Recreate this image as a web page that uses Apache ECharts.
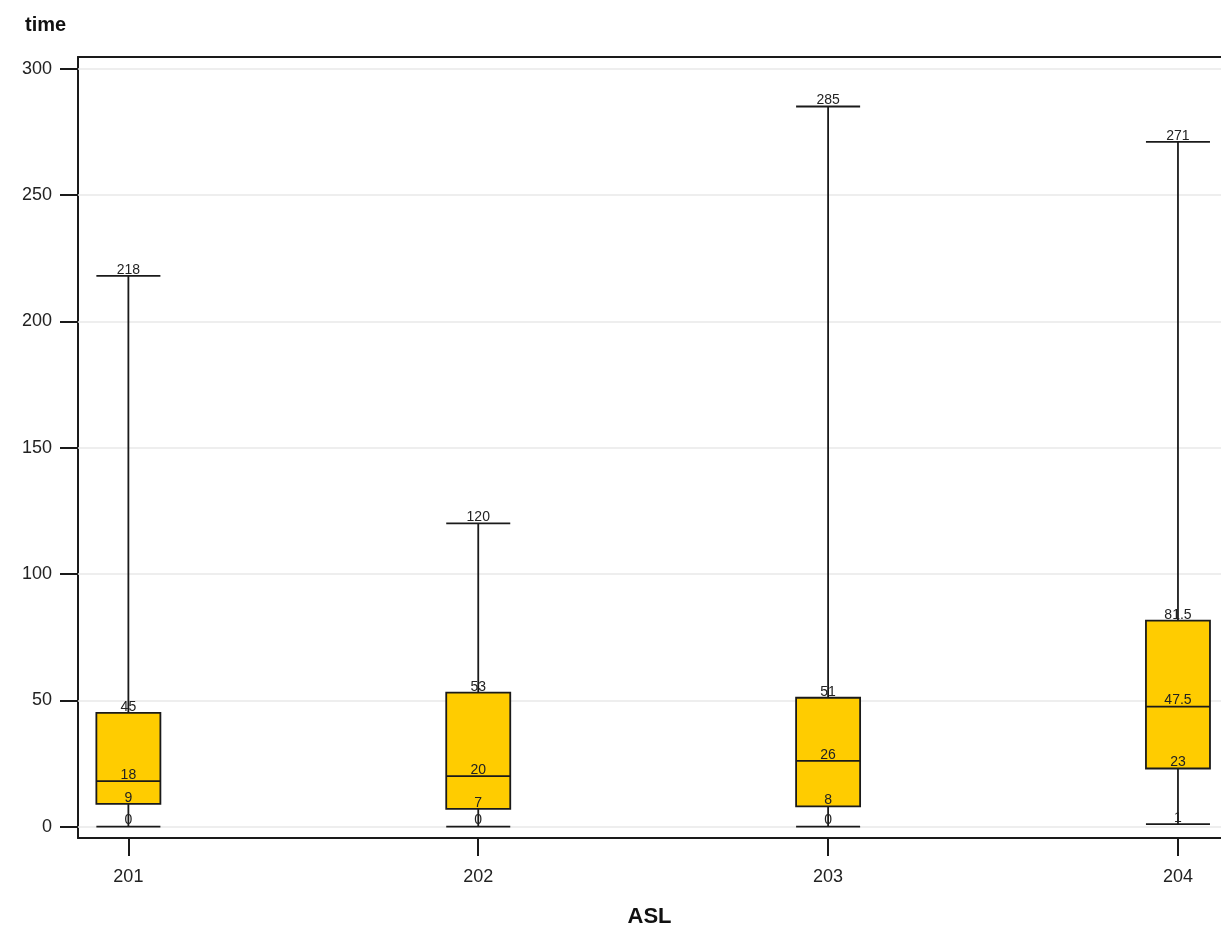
<!DOCTYPE html>
<html>
<head>
<meta charset="utf-8">
<script src="https://cdn.jsdelivr.net/npm/echarts@6/dist/echarts.min.js"></script>
<style>html,body{margin:0;padding:0;background:#fff;}#c{width:1221px;height:933px;}</style>
</head>
<body>
<div id="c"></div>
<script>
const categories = [201, 202, 203, 204];
const minVals = [0, 0, 0, 1];
const q1Vals = [9, 7, 8, 23];
const medianVals = [18, 20, 26, 47.5];
const q3Vals = [45, 53, 51, 81.5];
const maxVals = [218, 120, 285, 271];
const yTicks = [0, 50, 100, 150, 200, 250, 300];
const xTicks = categories;

const data = categories.map((c, i) => [c, minVals[i], q1Vals[i], medianVals[i], q3Vals[i], maxVals[i]]);

const lineColor = '#1a1a1a';
const textFont = '14px "Liberation Sans", Arial, sans-serif';

function renderItem(params, api) {
  const x = api.value(0);
  const vals = [api.value(1), api.value(2), api.value(3), api.value(4), api.value(5)];
  const halfW = api.size([0.183, 0])[0] / 2;
  const pMin = api.coord([x, vals[0]]);
  const pQ1 = api.coord([x, vals[1]]);
  const pMed = api.coord([x, vals[2]]);
  const pQ3 = api.coord([x, vals[3]]);
  const pMax = api.coord([x, vals[4]]);
  const cx = pMin[0];
  const ls = { stroke: lineColor, lineWidth: 1.8 };
  const children = [
    { type: 'line', shape: { x1: cx, y1: pMin[1], x2: cx, y2: pQ1[1] }, style: ls },
    { type: 'line', shape: { x1: cx, y1: pQ3[1], x2: cx, y2: pMax[1] }, style: ls },
    { type: 'line', shape: { x1: cx - halfW, y1: pMin[1], x2: cx + halfW, y2: pMin[1] }, style: ls },
    { type: 'line', shape: { x1: cx - halfW, y1: pMax[1], x2: cx + halfW, y2: pMax[1] }, style: ls },
    { type: 'rect', shape: { x: cx - halfW, y: pQ3[1], width: halfW * 2, height: pQ1[1] - pQ3[1] },
      style: { fill: '#FFCC00', stroke: lineColor, lineWidth: 1.8 } },
    { type: 'line', shape: { x1: cx - halfW, y1: pMed[1], x2: cx + halfW, y2: pMed[1] }, style: ls }
  ];
  [pMin, pQ1, pMed, pQ3, pMax].forEach((p, k) => {
    children.push({
      type: 'text', z2: 10,
      style: { text: String(vals[k]), x: cx, y: p[1] - 6, textAlign: 'center', textVerticalAlign: 'middle',
        font: textFont, fill: '#222' }
    });
  });
  return { type: 'group', children };
}

const chart = echarts.init(document.getElementById('c'), null, { renderer: 'canvas' });
chart.setOption({
  animation: false,
  backgroundColor: '#fff',
  title: {
    text: 'time', left: 20, top: 10,
    textStyle: { fontFamily: '"Liberation Sans", Arial, sans-serif', fontSize: 20, fontWeight: 'bold', color: '#111' }
  },
  grid: { left: 78, right: 0, top: 57, bottom: 95 },
  xAxis: [{
    type: 'value', min: 200.856, max: 204.123,
    name: 'ASL', nameLocation: 'middle', nameGap: 68,
    nameTextStyle: { fontFamily: '"Liberation Sans", Arial, sans-serif', fontSize: 22, fontWeight: 'bold', color: '#111' },
    axisLine: { show: true, onZero: false, lineStyle: { color: lineColor, width: 2 } },
    axisTick: { show: true, length: 18, customValues: xTicks, lineStyle: { color: lineColor, width: 2 } },
    axisLabel: { show: true, customValues: xTicks, margin: 30, fontSize: 18, color: '#222',
      fontFamily: '"Liberation Sans", Arial, sans-serif' },
    splitLine: { show: false }
  }, {
    type: 'value', position: 'top', min: 200.856, max: 204.123,
    axisLine: { show: true, onZero: false, lineStyle: { color: lineColor, width: 2 } },
    axisTick: { show: false }, axisLabel: { show: false }, splitLine: { show: false }
  }],
  yAxis: {
    type: 'value', min: -4.5, max: 304.6,
    axisLine: { show: true, onZero: false, lineStyle: { color: lineColor, width: 2 } },
    axisTick: { show: true, length: 18, customValues: yTicks, lineStyle: { color: lineColor, width: 2 } },
    axisLabel: { show: true, customValues: yTicks, margin: 26, fontSize: 18, color: '#222',
      fontFamily: '"Liberation Sans", Arial, sans-serif' },
    splitLine: { show: false }
  },
  series: [{
    type: 'custom',
    renderItem: renderItem,
    data: data,
    encode: { x: 0, y: [1, 2, 3, 4, 5] },
    clip: false,
    z: 5,
    markLine: {
      silent: true, symbol: 'none', label: { show: false },
      lineStyle: { color: '#e8e8e8', width: 1.5, type: 'solid' },
      data: yTicks.map(v => ({ yAxis: v })),
      z: 1
    }
  }]
});
</script>
</body>
</html>
